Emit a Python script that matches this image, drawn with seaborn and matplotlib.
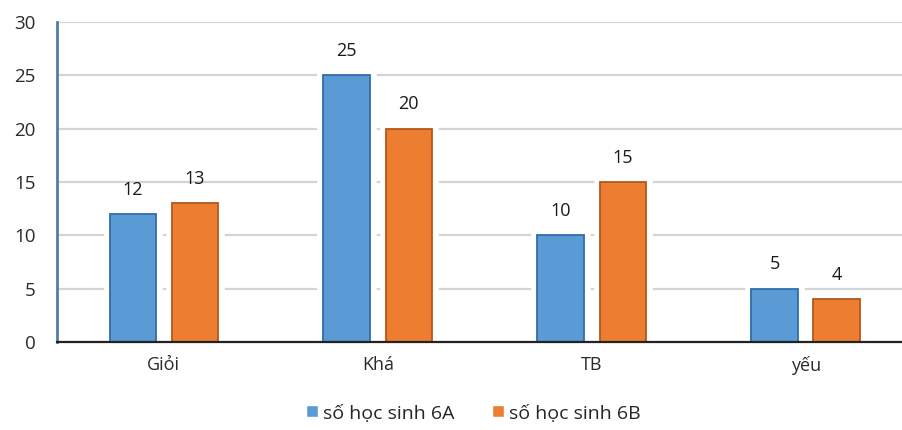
import matplotlib
matplotlib.use("Agg")
import matplotlib.pyplot as plt
import matplotlib.patheffects as pe
import seaborn as sns
import pandas as pd

categories = ["Giỏi", "Khá", "TB", "yếu"]
series_names = ["số học sinh 6A", "số học sinh 6B"]
values_6a = [12, 25, 10, 5]
values_6b = [13, 20, 15, 4]
y_ticks = [0, 5, 10, 15, 20, 25, 30]

df = pd.DataFrame({
    "loai": categories * 2,
    "nhom": [series_names[0]] * 4 + [series_names[1]] * 4,
    "so": values_6a + values_6b,
})

sns.set_theme(style="white")
plt.rcParams["font.family"] = ["Open Sans", "DejaVu Sans"]

fig = plt.figure(figsize=(9.02, 4.3), dpi=100)
ax = fig.add_axes([0.063, 0.2047, 0.937, 0.7441])

face = {series_names[0]: "#5B9BD5", series_names[1]: "#ED7D31"}
edge = ["#2F6EA8", "#B5561A"]

sns.barplot(data=df, x="loai", y="so", hue="nhom", palette=face, saturation=1,
            width=0.58, gap=0.25, ax=ax, legend=True, zorder=3)

for container, ec in zip(ax.containers, edge):
    for bar in container:
        bar.set_edgecolor(ec)
        bar.set_linewidth(1.3)
        bar.set_path_effects([pe.Stroke(linewidth=9, foreground="white"), pe.Normal()])
    ax.bar_label(container, padding=11, fontsize=13, color="#1A1A1A")

ax.set_ylim(0, 30)
ax.set_yticks(y_ticks)
ax.set_xlim(-0.5, 3.45)
ax.yaxis.grid(True, color="#D4D4D4", linewidth=1.6, zorder=0)
ax.set_axisbelow(True)
ax.set_xlabel("")
ax.set_ylabel("")
ax.tick_params(axis="y", labelsize=13.5, pad=15, length=0, labelcolor="#2A2A2A")
ax.tick_params(axis="x", labelsize=13, pad=10, length=0, labelcolor="#2A2A2A")

for s in ["top", "right"]:
    ax.spines[s].set_visible(False)
ax.spines["left"].set_color("#4F7EA8")
ax.spines["left"].set_linewidth(2)
ax.spines["bottom"].set_color("#222222")
ax.spines["bottom"].set_linewidth(1.6)
ax.spines["bottom"].set_zorder(6)
ax.spines["left"].set_zorder(6)

handles, labels = ax.get_legend_handles_labels()
ax.legend(handles, labels, loc="center", bbox_to_anchor=(0.493, -0.222),
          ncol=2, frameon=False, fontsize=14, handlelength=0.6, handleheight=0.6,
          handletextpad=0.3, columnspacing=1.9, borderpad=0.2)

fig.savefig("out.png", dpi=100)
